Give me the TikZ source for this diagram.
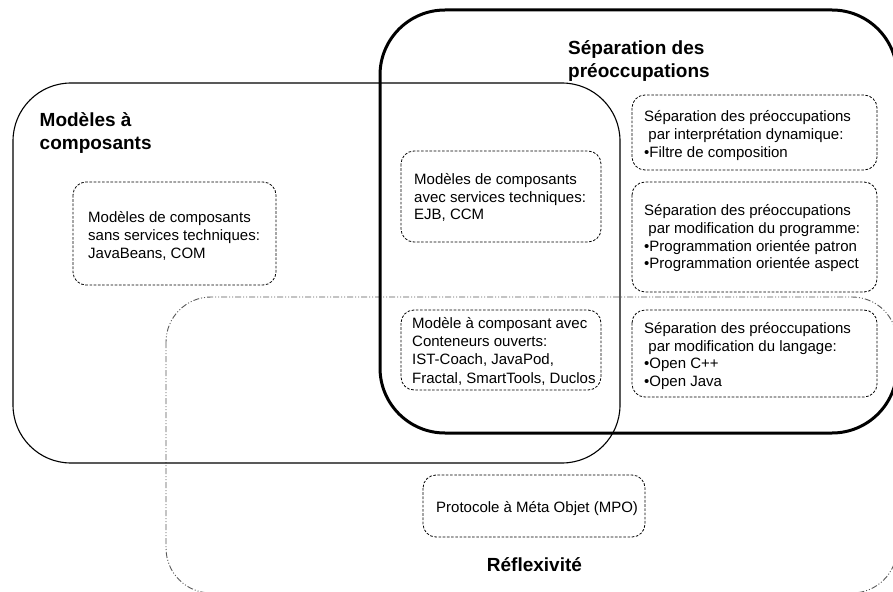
\documentclass[tikz,border=0pt]{standalone}
\usepackage{fontspec}
\setmainfont{Liberation Sans}
\newcommand\tlines[1]{\begin{tabular}[t]{@{}l@{}}#1\end{tabular}}
\tikzset{
  inbox/.style={draw=black, line width=0.8pt, dash pattern=on 2.6pt off 1.6pt, rounded corners=13pt},
  txt/.style={anchor=base west, inner sep=0pt, font=\fontsize{15}{17.7}\selectfont},
  txtE/.style={anchor=base west, inner sep=0pt, font=\fontsize{15}{18.3}\selectfont},
  ttl/.style={anchor=base west, inner sep=0pt, font=\fontsize{19}{22.4}\selectfont\bfseries},
  modbox/.style={draw=black, line width=1.1pt, rounded corners=58pt},
  sepbox/.style={draw=black, line width=3pt, rounded corners=65pt},
  refbox/.style={draw=black!65, line width=0.9pt, dash pattern=on 6pt off 2pt on 1pt off 2pt on 1pt off 2pt, rounded corners=45pt},
}
\begin{document}
\begin{tikzpicture}[x=1pt, y=-1pt]
\fill[white] (0,0) rectangle (893,591);
\useasboundingbox (0,0) rectangle (893,591);
% large regions
\draw[refbox] (166,297) rectangle (897,593);
\draw[modbox] (13,83) rectangle (620,463);
\draw[sepbox] (380,10) rectangle (897,433);
% inner dashed boxes
\draw[inbox] (73,182) rectangle (276,285);
\draw[inbox] (401,151) rectangle (601,242);
\draw[inbox] (632,95) rectangle (877,170);
\draw[inbox] (632,182) rectangle (877,292);
\draw[inbox] (401,310) rectangle (601,390);
\draw[inbox] (632,310) rectangle (877,397);
\draw[inbox] (423,475) rectangle (645,537);
% titles
\node[ttl] (tmod) at (39.5,126.7) {\tlines{Modèles à\\composants}};
\node[ttl] (tsep) at (568,55) {\tlines{Séparation des\\préoccupations}};
\node[ttl] (tref) at (486.7,571) {Réflexivité};
% box texts
\node[txt] (ta) at (88,222.7) {\tlines{Modèles de composants\\sans services techniques:\\JavaBeans, COM}};
\node[txt] (tb) at (414,184.3) {\tlines{Modèles de composants\\avec services techniques:\\EJB, CCM}};
\node[txt] (tc) at (644,121.7) {\tlines{Séparation des préoccupations\\\hspace{4.2pt}par interprétation dynamique:\\•Filtre de composition}};
\node[txt] (td) at (644,215.7) {\tlines{Séparation des préoccupations\\\hspace{4.2pt}par modification du programme:\\•Programmation orientée patron\\•Programmation orientée aspect}};
\node[txtE] (te) at (412,328.3) {\tlines{Modèle à composant avec\\Conteneurs ouverts:\\IST-Coach, JavaPod,\\Fractal, SmartTools, Duclos}};
\node[txt] (tf) at (644,333.3) {\tlines{Séparation des préoccupations\\\hspace{4.2pt}par modification du langage:\\•Open C++\\•Open Java}};
\node[txt] (tg) at (436,512.3) {Protocole à Méta Objet (MPO)};
\end{tikzpicture}
\end{document}
